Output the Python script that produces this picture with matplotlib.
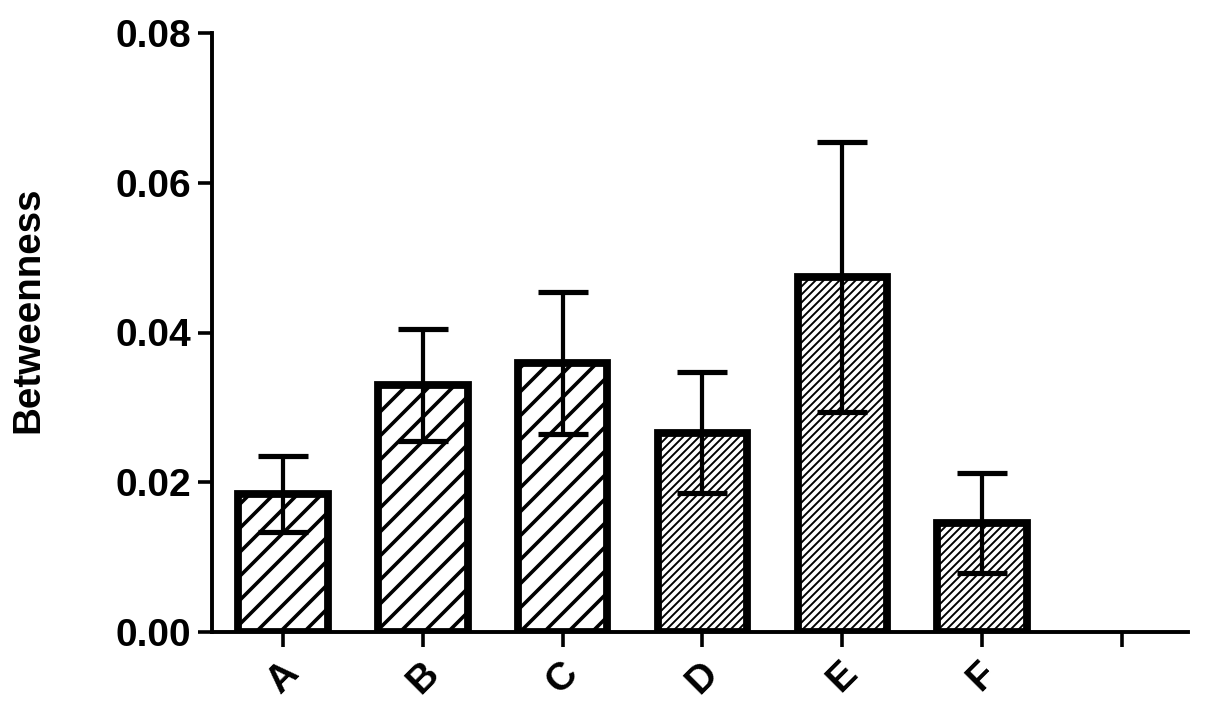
import matplotlib
matplotlib.use('Agg')
import matplotlib.pyplot as plt
from matplotlib.ticker import FormatStrFormatter

categories = ['A', 'B', 'C', 'D', 'E', 'F']
values = [0.0184, 0.0330, 0.0359, 0.0266, 0.0474, 0.0146]
errors = [0.0051, 0.0075, 0.0095, 0.0081, 0.0180, 0.0067]
hatches = ['/', '/', '/', '///', '///', '///']
hatch_lw = [3.6, 3.6, 3.6, 1.9, 1.9, 1.9]
y_ticks = [0.00, 0.02, 0.04, 0.06, 0.08]

plt.rcParams['font.family'] = ['Liberation Sans', 'DejaVu Sans']
plt.rcParams['font.weight'] = 'bold'

# dpi 72 so that one point is one pixel (and the hatch spacing matches)
DPI = 72
fig = plt.figure(figsize=(1205 / DPI, 709 / DPI), dpi=DPI)
ax = fig.add_axes([212 / 1205, 1 - 632 / 709, 976 / 1205, 599 / 709])

x = list(range(len(categories)))
for i in x:
    with plt.rc_context({'hatch.linewidth': hatch_lw[i], 'hatch.color': 'black'}):
        b = ax.bar(i, values[i], width=0.64, color='white', edgecolor='black',
                   linewidth=7.8, hatch=hatches[i], zorder=2)
    for p in b:
        if hasattr(p, 'set_hatch_linewidth'):
            p.set_hatch_linewidth(hatch_lw[i])

ax.errorbar(x, values, yerr=errors, fmt='none', ecolor='black', elinewidth=4.2,
            capsize=25, capthick=5.2, zorder=3)

ax.set_xlim(-0.508, 6.473)
ax.set_ylim(0, 0.08)
ax.set_yticks(y_ticks)
ax.yaxis.set_major_formatter(FormatStrFormatter('%.2f'))
ax.set_xticks(x + [6])
ax.set_xticklabels(categories + [''], rotation=45, ha='center')

for s in ['top', 'right']:
    ax.spines[s].set_visible(False)
for s in ['left', 'bottom']:
    ax.spines[s].set_linewidth(3.9)

ax.tick_params(axis='y', length=14.5, width=3.6, pad=6.5, labelsize=39)
ax.tick_params(axis='x', length=15, width=3.6, pad=8, labelsize=39)
for lab in ax.get_xticklabels() + ax.get_yticklabels():
    lab.set_fontweight('bold')

fig.text(28 / 1205, 1 - 310 / 709, 'Betweenness', rotation=90, ha='center',
         va='center', fontsize=38.5, fontweight='bold')

fig.savefig('out.png', dpi=DPI)
